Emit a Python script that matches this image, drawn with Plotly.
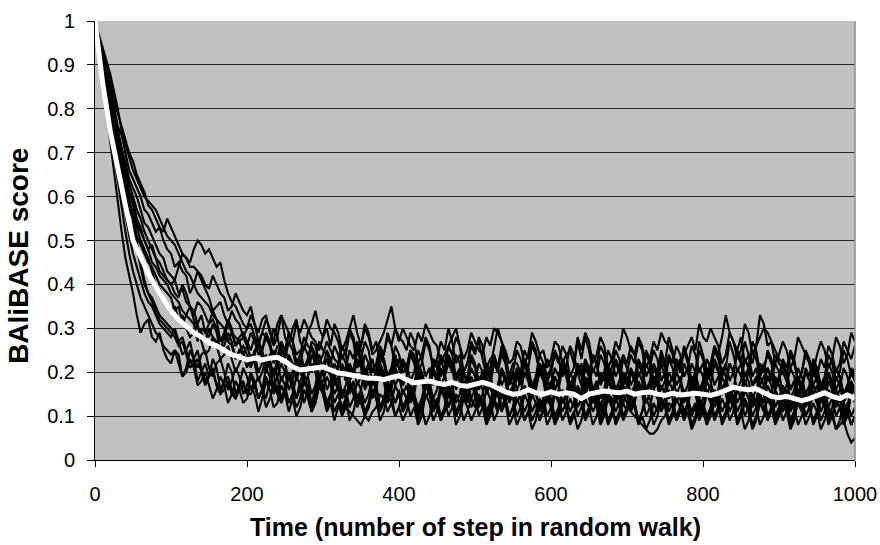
import plotly.graph_objects as go

# Random-walk step at which each individual score was recorded
steps = list(range(0, 1001, 5))
# Steps at which the average score is plotted
mean_steps = list(range(0, 1001, 10))

# BAliBASE score of each individual random walk (in hundredths)
run_a = [100,
         95, 92, 87, 85, 80, 76, 74, 70, 66, 64, 62, 60, 57, 56, 54, 52, 53, 50, 48, 47,
         44, 45, 43, 42, 38, 40, 43, 41, 39, 37, 34, 35, 36, 33, 31, 34, 32, 31, 28, 30,
         33, 31, 27, 29, 32, 30, 26, 28, 33, 31, 29, 27, 31, 29, 32, 30, 28, 27, 25, 28,
         30, 26, 31, 29, 25, 27, 30, 33, 29, 26, 30, 28, 24, 25, 27, 29, 32, 35, 30, 27,
         30, 28, 26, 25, 29, 27, 31, 29, 27, 26, 22, 24, 26, 28, 30, 26, 23, 25, 29, 27,
         25, 24, 28, 26, 30, 29, 27, 25, 22, 23, 27, 26, 22, 24, 29, 27, 24, 25, 21, 23,
         27, 26, 22, 24, 25, 22, 28, 25, 29, 27, 22, 24, 28, 26, 21, 23, 27, 25, 30, 28,
         25, 24, 28, 26, 21, 23, 27, 25, 29, 27, 26, 24, 20, 22, 24, 26, 28, 25, 31, 28,
         27, 30, 28, 26, 22, 24, 29, 27, 23, 25, 31, 29, 24, 26, 33, 31, 26, 27, 22, 24,
         27, 25, 21, 23, 28, 26, 24, 22, 20, 24, 27, 25, 21, 23, 28, 26, 22, 24, 29, 27]
run_b = [100,
         94, 90, 84, 80, 75, 72, 67, 63, 61, 58, 54, 52, 50, 48, 49, 46, 43, 42, 41, 40,
         38, 37, 40, 38, 35, 34, 31, 33, 29, 31, 34, 32, 27, 29, 32, 30, 26, 28, 29, 27,
         25, 28, 27, 25, 29, 27, 23, 26, 25, 24, 29, 27, 24, 25, 21, 23, 27, 26, 22, 24,
         27, 25, 23, 22, 26, 24, 29, 27, 21, 23, 27, 25, 20, 22, 26, 24, 28, 26, 21, 23,
         20, 21, 25, 24, 20, 22, 27, 25, 21, 23, 19, 21, 26, 24, 28, 26, 20, 22, 26, 24,
         28, 26, 21, 23, 24, 21, 26, 24, 19, 22, 22, 20, 25, 23, 27, 25, 20, 22, 19, 21,
         25, 23, 19, 21, 26, 24, 20, 22, 17, 19, 24, 22, 26, 24, 19, 21, 25, 23, 18, 20,
         24, 22, 27, 25, 19, 21, 25, 23, 18, 20, 24, 22, 26, 24, 19, 21, 17, 19, 25, 23,
         19, 21, 26, 24, 20, 22, 18, 20, 25, 23, 19, 21, 27, 25, 20, 22, 18, 20, 24, 22,
         21, 19, 24, 22, 18, 20, 25, 23, 19, 21, 17, 19, 24, 22, 18, 20, 25, 23, 19, 21]
run_c = [100,
         96, 91, 86, 83, 78, 75, 71, 68, 64, 62, 60, 57, 54, 53, 51, 49, 47, 46, 43, 42,
         41, 44, 47, 46, 45, 48, 50, 49, 47, 48, 46, 44, 45, 41, 38, 36, 35, 33, 31, 30,
         31, 28, 26, 29, 28, 26, 30, 28, 24, 25, 29, 27, 22, 24, 28, 26, 25, 23, 27, 25,
         24, 22, 26, 24, 19, 21, 25, 23, 27, 25, 20, 22, 18, 20, 25, 23, 19, 21, 26, 24,
         21, 22, 18, 20, 25, 23, 19, 21, 17, 19, 24, 22, 26, 24, 19, 21, 17, 19, 24, 22,
         18, 20, 21, 18, 24, 21, 25, 23, 18, 20, 16, 18, 23, 21, 17, 19, 24, 22, 18, 20,
         16, 18, 23, 21, 17, 19, 20, 17, 22, 20, 24, 22, 17, 19, 21, 18, 23, 21, 17, 19,
         15, 17, 22, 20, 24, 22, 17, 19, 16, 18, 23, 21, 17, 19, 15, 17, 22, 20, 16, 18,
         23, 21, 17, 19, 15, 17, 22, 20, 16, 18, 23, 21, 17, 19, 15, 17, 21, 19, 16, 18,
         22, 20, 16, 18, 14, 16, 21, 19, 23, 21, 16, 18, 19, 17, 21, 19, 15, 17, 20, 18]
run_d = [100,
         93, 89, 83, 79, 73, 70, 64, 61, 57, 55, 51, 49, 47, 45, 44, 42, 40, 39, 38, 37,
         34, 35, 31, 33, 32, 31, 27, 30, 29, 28, 31, 29, 25, 26, 29, 27, 23, 25, 26, 24,
         22, 25, 26, 23, 20, 24, 25, 22, 27, 25, 23, 21, 19, 23, 20, 22, 26, 24, 19, 21,
         23, 20, 18, 22, 26, 24, 19, 21, 17, 19, 24, 22, 18, 20, 25, 23, 19, 21, 17, 19,
         23, 21, 25, 23, 18, 20, 16, 18, 23, 21, 17, 19, 24, 22, 18, 20, 15, 18, 23, 21,
         17, 19, 15, 17, 22, 20, 24, 22, 17, 19, 20, 18, 22, 20, 15, 17, 21, 19, 23, 21,
         16, 18, 22, 20, 15, 17, 21, 19, 23, 21, 16, 18, 14, 16, 21, 19, 22, 20, 15, 17,
         21, 19, 23, 21, 16, 18, 22, 20, 25, 22, 17, 19, 23, 21, 26, 23, 18, 20, 27, 24,
         20, 22, 26, 24, 28, 33, 29, 27, 25, 28, 22, 24, 19, 21, 17, 19, 21, 18, 22, 20,
         15, 17, 21, 19, 15, 18, 13, 16, 21, 19, 14, 17, 22, 20, 16, 18, 13, 16, 21, 19]
run_e = [100,
         95, 90, 85, 81, 76, 73, 69, 66, 61, 59, 55, 53, 50, 48, 45, 44, 42, 41, 40, 38,
         37, 36, 34, 33, 35, 32, 30, 29, 27, 30, 28, 27, 25, 28, 27, 26, 23, 25, 24, 23,
         21, 24, 20, 22, 24, 21, 19, 23, 18, 20, 24, 22, 18, 21, 17, 19, 24, 22, 18, 20,
         23, 21, 17, 19, 21, 18, 22, 20, 25, 22, 17, 19, 15, 17, 22, 20, 16, 18, 23, 21,
         17, 19, 15, 17, 22, 20, 16, 18, 14, 16, 21, 19, 23, 21, 16, 18, 20, 17, 21, 19,
         16, 18, 22, 20, 15, 17, 21, 19, 14, 16, 20, 18, 23, 20, 15, 17, 22, 19, 16, 18,
         14, 16, 21, 19, 15, 17, 22, 20, 16, 18, 13, 16, 20, 18, 22, 19, 14, 17, 13, 15,
         20, 18, 22, 20, 15, 17, 21, 19, 14, 16, 20, 18, 23, 20, 25, 22, 17, 19, 15, 17,
         21, 19, 23, 21, 16, 18, 22, 20, 24, 22, 27, 24, 22, 26, 28, 30, 29, 27, 25, 23,
         22, 20, 16, 18, 14, 16, 20, 18, 15, 17, 13, 15, 20, 18, 14, 16, 21, 19, 15, 17]
run_f = [100,
         97, 94, 91, 88, 84, 80, 75, 72, 69, 66, 64, 62, 60, 59, 58, 57, 55, 53, 51, 50,
         49, 47, 45, 43, 42, 40, 38, 37, 36, 35, 33, 32, 31, 30, 27, 29, 28, 27, 24, 26,
         23, 24, 27, 25, 21, 23, 19, 21, 24, 22, 18, 20, 23, 21, 17, 19, 22, 20, 16, 18,
         21, 19, 15, 17, 22, 20, 15, 18, 14, 16, 21, 19, 15, 17, 20, 18, 13, 16, 21, 19,
         15, 17, 13, 15, 20, 18, 14, 16, 21, 19, 15, 17, 12, 15, 20, 18, 14, 16, 19, 17,
         13, 15, 19, 17, 13, 16, 12, 14, 19, 17, 13, 15, 20, 18, 14, 16, 11, 14, 18, 16,
         19, 17, 13, 15, 18, 16, 12, 14, 19, 17, 13, 15, 11, 13, 18, 16, 13, 15, 19, 17,
         12, 14, 18, 16, 13, 15, 19, 17, 12, 14, 18, 16, 13, 15, 11, 13, 18, 16, 12, 14,
         18, 16, 12, 14, 19, 17, 13, 15, 11, 13, 18, 16, 12, 14, 17, 15, 19, 17, 12, 14,
         17, 15, 11, 13, 18, 16, 12, 14, 17, 15, 11, 13, 18, 16, 12, 14, 10, 12, 17, 15]
run_g = [100,
         93, 86, 79, 72, 65, 58, 52, 46, 42, 38, 33, 29, 31, 32, 28, 27, 29, 25, 23, 22,
         25, 24, 19, 21, 25, 23, 18, 20, 22, 19, 23, 21, 16, 18, 22, 20, 15, 17, 21, 19,
         16, 18, 14, 16, 21, 19, 15, 17, 13, 15, 20, 18, 14, 16, 19, 17, 13, 15, 18, 16,
         19, 17, 13, 15, 12, 14, 18, 16, 13, 15, 11, 13, 18, 16, 12, 14, 17, 15, 13, 16,
         12, 14, 17, 15, 11, 13, 18, 16, 12, 14, 10, 12, 17, 15, 11, 13, 16, 14, 18, 16,
         12, 14, 10, 12, 17, 15, 11, 13, 16, 14, 10, 12, 17, 15, 11, 13, 9, 11, 16, 14,
         10, 12, 16, 14, 11, 13, 17, 15, 10, 12, 16, 14, 11, 13, 9, 11, 16, 14, 10, 12,
         15, 13, 17, 15, 10, 12, 16, 14, 11, 13, 9, 11, 16, 14, 10, 12, 17, 15, 11, 13,
         10, 12, 16, 14, 11, 13, 9, 11, 16, 14, 10, 12, 15, 13, 17, 15, 10, 12, 16, 14,
         11, 13, 9, 11, 16, 14, 10, 12, 15, 13, 17, 15, 10, 12, 16, 14, 11, 13, 10, 12]
run_h = [100,
         94, 88, 82, 76, 70, 65, 60, 56, 51, 47, 44, 41, 38, 36, 35, 33, 31, 30, 29, 28,
         30, 27, 24, 25, 27, 23, 21, 24, 25, 21, 19, 22, 23, 20, 16, 18, 21, 19, 15, 17,
         20, 18, 14, 16, 19, 17, 21, 19, 14, 16, 13, 15, 19, 17, 13, 16, 12, 14, 18, 16,
         13, 15, 11, 13, 10, 12, 11, 10, 9, 8, 10, 9, 11, 12, 15, 14, 11, 13, 17, 15,
         11, 13, 16, 14, 10, 12, 17, 15, 11, 13, 9, 11, 16, 14, 10, 12, 15, 13, 17, 15,
         10, 12, 16, 14, 9, 11, 15, 13, 10, 12, 16, 14, 9, 11, 15, 13, 9, 12, 8, 10,
         15, 13, 9, 11, 14, 12, 16, 14, 9, 11, 15, 13, 10, 12, 8, 10, 14, 12, 9, 11,
         15, 13, 9, 11, 14, 12, 8, 10, 14, 12, 16, 14, 9, 11, 15, 13, 10, 12, 9, 11,
         15, 13, 9, 11, 14, 12, 16, 14, 9, 11, 14, 12, 8, 10, 14, 12, 9, 11, 15, 13,
         9, 11, 14, 12, 8, 10, 14, 12, 9, 11, 15, 13, 8, 10, 14, 12, 9, 11, 8, 10]
run_i = [100,
         95, 91, 86, 82, 78, 74, 69, 64, 59, 54, 49, 45, 41, 38, 36, 34, 32, 31, 30, 29,
         28, 26, 27, 24, 21, 22, 23, 20, 17, 19, 20, 17, 15, 18, 19, 16, 14, 17, 18, 15,
         19, 17, 14, 16, 12, 14, 17, 15, 19, 17, 13, 15, 12, 14, 18, 16, 11, 13, 17, 15,
         12, 14, 18, 16, 11, 13, 17, 15, 12, 14, 10, 12, 16, 14, 11, 13, 17, 15, 10, 12,
         16, 14, 10, 12, 8, 10, 15, 13, 9, 11, 16, 14, 10, 12, 15, 13, 9, 11, 14, 12,
         15, 13, 9, 11, 14, 12, 16, 14, 10, 12, 8, 10, 15, 13, 9, 11, 14, 12, 15, 13,
         9, 11, 14, 12, 8, 10, 15, 13, 9, 11, 14, 12, 8, 10, 14, 12, 9, 11, 15, 13,
         11, 10, 9, 8, 7, 6, 6, 7, 9, 10, 13, 12, 9, 11, 15, 13, 8, 10, 14, 12,
         9, 11, 15, 13, 8, 10, 14, 12, 9, 11, 7, 9, 14, 12, 8, 10, 15, 13, 9, 11,
         14, 12, 8, 10, 13, 11, 15, 13, 8, 10, 14, 12, 9, 11, 7, 9, 13, 11, 8, 10]
run_j = [100,
         93, 87, 81, 75, 69, 63, 57, 52, 47, 43, 40, 37, 35, 33, 31, 29, 28, 26, 25, 24,
         25, 22, 19, 20, 23, 21, 17, 18, 20, 17, 14, 16, 19, 17, 13, 15, 18, 16, 13, 14,
         17, 15, 11, 14, 18, 16, 12, 13, 17, 15, 11, 14, 10, 12, 16, 14, 11, 13, 17, 15,
         11, 13, 9, 12, 16, 14, 9, 11, 15, 13, 10, 12, 16, 14, 9, 11, 15, 13, 10, 12,
         9, 11, 15, 13, 9, 12, 8, 10, 14, 12, 9, 11, 15, 13, 8, 10, 14, 12, 9, 11,
         14, 12, 8, 10, 13, 11, 15, 13, 8, 10, 14, 12, 9, 11, 7, 9, 13, 11, 14, 12,
         8, 10, 14, 12, 9, 11, 7, 9, 14, 12, 8, 10, 13, 11, 15, 13, 8, 10, 13, 11,
         14, 12, 8, 10, 7, 9, 13, 11, 14, 12, 8, 10, 14, 12, 9, 11, 7, 9, 13, 11,
         8, 10, 14, 12, 9, 11, 15, 13, 8, 10, 13, 11, 7, 9, 13, 11, 14, 12, 8, 10,
         13, 11, 7, 9, 14, 12, 8, 10, 13, 11, 7, 9, 12, 10, 7, 8, 9, 6, 4, 5]
run_k = [100,
         96, 93, 90, 86, 82, 79, 76, 73, 70, 68, 65, 63, 61, 58, 57, 55, 53, 52, 55, 53,
         51, 49, 47, 46, 44, 44, 43, 42, 40, 39, 42, 40, 38, 37, 34, 35, 38, 36, 34, 33,
         35, 31, 29, 32, 33, 29, 27, 31, 33, 28, 26, 30, 32, 27, 25, 29, 31, 34, 30, 28,
         32, 30, 29, 27, 23, 25, 30, 28, 24, 26, 31, 29, 25, 27, 22, 24, 29, 26, 30, 28,
         27, 25, 29, 27, 22, 24, 28, 26, 21, 23, 27, 25, 30, 27, 22, 24, 20, 22, 27, 25,
         27, 23, 19, 21, 26, 30, 27, 22, 18, 20, 25, 23, 19, 21, 26, 24, 20, 22, 18, 20,
         24, 22, 26, 24, 19, 21, 27, 23, 28, 25, 20, 22, 18, 20, 25, 23, 19, 21, 24, 22,
         26, 24, 19, 21, 25, 23, 18, 20, 24, 22, 28, 25, 21, 23, 19, 21, 26, 24, 20, 22,
         18, 20, 25, 23, 19, 21, 27, 24, 20, 22, 17, 20, 25, 23, 19, 21, 24, 22, 17, 19,
         23, 21, 25, 23, 18, 20, 24, 22, 17, 19, 23, 21, 26, 24, 20, 22, 27, 25, 23, 26]
run_l = [100,
         94, 89, 84, 80, 75, 70, 66, 62, 59, 56, 53, 50, 48, 46, 43, 40, 39, 37, 36, 34,
         35, 32, 33, 30, 28, 29, 31, 27, 24, 25, 28, 26, 23, 24, 26, 23, 20, 22, 24, 21,
         24, 22, 18, 20, 23, 21, 17, 19, 22, 20, 16, 18, 23, 21, 17, 19, 15, 17, 22, 20,
         16, 18, 22, 20, 15, 17, 21, 19, 23, 21, 16, 18, 14, 16, 21, 19, 15, 17, 20, 18,
         22, 20, 15, 17, 21, 19, 14, 16, 20, 18, 23, 20, 15, 17, 13, 15, 20, 18, 14, 16,
         19, 17, 21, 19, 14, 16, 20, 18, 13, 15, 19, 17, 22, 19, 14, 16, 20, 18, 13, 15,
         19, 17, 13, 15, 20, 18, 14, 16, 21, 19, 15, 17, 12, 15, 19, 17, 13, 16, 20, 18,
         14, 16, 20, 18, 13, 15, 19, 17, 22, 19, 14, 16, 20, 18, 13, 15, 19, 17, 14, 16,
         20, 18, 14, 16, 21, 19, 15, 17, 13, 15, 20, 18, 14, 16, 19, 17, 13, 15, 19, 17,
         14, 16, 12, 14, 19, 17, 13, 15, 20, 18, 14, 16, 12, 14, 19, 17, 13, 15, 18, 16]
run_m = [100,
         94, 88, 82, 77, 72, 68, 64, 60, 55, 52, 48, 44, 40, 38, 37, 35, 33, 32, 31, 30,
         29, 27, 28, 25, 22, 23, 25, 21, 18, 19, 21, 17, 15, 16, 18, 15, 14, 16, 17, 15,
         15, 17, 19, 16, 14, 18, 20, 15, 13, 17, 19, 16, 14, 18, 20, 15, 13, 16, 19, 17,
         13, 15, 19, 17, 14, 16, 12, 14, 18, 16, 13, 15, 19, 17, 12, 14, 18, 16, 13, 15,
         11, 13, 17, 15, 12, 14, 18, 16, 11, 13, 17, 15, 12, 14, 10, 12, 16, 15, 12, 14,
         18, 16, 11, 13, 17, 15, 12, 14, 10, 12, 16, 14, 11, 13, 17, 15, 12, 14, 10, 12,
         16, 14, 11, 13, 17, 15, 10, 12, 16, 14, 11, 13, 9, 11, 15, 14, 11, 13, 17, 15,
         11, 13, 9, 11, 16, 14, 10, 12, 17, 15, 11, 13, 10, 12, 16, 14, 11, 13, 10, 12,
         16, 14, 10, 12, 17, 15, 11, 13, 9, 11, 16, 14, 10, 12, 15, 13, 17, 15, 10, 12,
         15, 13, 9, 11, 16, 14, 10, 12, 15, 13, 9, 11, 16, 14, 10, 12, 8, 10, 15, 13]
run_n = [100,
         96, 92, 88, 84, 80, 75, 71, 67, 63, 60, 57, 55, 52, 50, 48, 46, 45, 43, 41, 40,
         41, 38, 39, 36, 35, 33, 36, 35, 33, 31, 32, 30, 27, 28, 31, 29, 26, 27, 28, 26,
         29, 27, 24, 25, 28, 26, 22, 24, 26, 23, 27, 25, 21, 22, 26, 24, 20, 23, 24, 21,
         25, 23, 19, 21, 24, 22, 18, 20, 26, 23, 19, 21, 23, 19, 24, 22, 18, 20, 24, 21,
         17, 19, 24, 22, 18, 20, 16, 18, 23, 21, 17, 19, 22, 20, 24, 22, 17, 19, 16, 18,
         22, 20, 16, 18, 23, 21, 17, 19, 15, 17, 21, 19, 23, 21, 16, 18, 22, 20, 15, 17,
         21, 19, 23, 21, 16, 18, 22, 20, 15, 17, 21, 19, 24, 22, 18, 20, 16, 18, 23, 21,
         17, 19, 15, 17, 22, 20, 16, 18, 23, 21, 17, 19, 15, 17, 22, 20, 16, 18, 21, 19,
         15, 17, 22, 20, 16, 18, 14, 16, 21, 19, 23, 21, 17, 18, 22, 20, 25, 23, 17, 19,
         20, 18, 14, 16, 21, 19, 15, 17, 22, 20, 16, 18, 14, 16, 21, 19, 15, 17, 20, 18]

runs = [run_a, run_b, run_c, run_d, run_e, run_f, run_g,
        run_h, run_i, run_j, run_k, run_l, run_m, run_n]

# Average score over all walks
mean_score = [1.00, 0.86, 0.75, 0.66, 0.58, 0.50, 0.46, 0.425, 0.395, 0.365, 0.34,
              0.32, 0.305, 0.29, 0.28, 0.267, 0.26, 0.25, 0.24, 0.235, 0.228,
              0.232, 0.228, 0.232, 0.234, 0.225, 0.212, 0.205, 0.207, 0.210, 0.212,
              0.205, 0.198, 0.196, 0.192, 0.190, 0.186, 0.186, 0.183, 0.188, 0.192,
              0.183, 0.176, 0.178, 0.180, 0.175, 0.172, 0.177, 0.170, 0.168, 0.172,
              0.177, 0.172, 0.163, 0.155, 0.150, 0.152, 0.160, 0.153, 0.150, 0.155,
              0.150, 0.153, 0.150, 0.140, 0.150, 0.153, 0.157, 0.155, 0.153, 0.157,
              0.150, 0.153, 0.155, 0.150, 0.147, 0.152, 0.148, 0.150, 0.152, 0.150,
              0.147, 0.152, 0.158, 0.166, 0.162, 0.160, 0.162, 0.155, 0.145, 0.142,
              0.145, 0.140, 0.135, 0.140, 0.148, 0.153, 0.145, 0.140, 0.148, 0.140]

y_ticks = [i / 10 for i in range(11)]
y_tick_text = ["0", "0.1", "0.2", "0.3", "0.4", "0.5", "0.6", "0.7", "0.8", "0.9", "1"]
x_ticks = [0, 200, 400, 600, 800, 1000]

FONT = "Liberation Sans, Arial, sans-serif"

fig = go.Figure()
for run in runs:
    fig.add_trace(go.Scatter(
        x=steps, y=[v / 100 for v in run], mode="lines",
        line=dict(color="#000000", width=2.1), hoverinfo="skip",
    ))
fig.add_trace(go.Scatter(
    x=mean_steps, y=mean_score, mode="lines",
    line=dict(color="#ffffff", width=5), hoverinfo="skip",
))

fig.update_layout(
    width=880, height=545,
    margin=dict(l=95, r=25, t=21, b=85),
    paper_bgcolor="#ffffff",
    plot_bgcolor="#c0c0c0",
    showlegend=False,
    font=dict(family=FONT, size=20, color="#000000"),
    xaxis=dict(
        range=[0, 1000], tickvals=x_ticks, ticks="outside", ticklen=6,
        tickcolor="#000000", showline=True, linecolor="#000000", linewidth=1,
        showgrid=False, zeroline=False, ticklabelstandoff=10, automargin=False,
    ),
    yaxis=dict(
        range=[0, 1], tickvals=y_ticks, ticktext=y_tick_text, ticks="outside",
        ticklen=7, tickcolor="#000000", showline=True, linecolor="#000000",
        linewidth=1, showgrid=True, gridcolor="#222222", gridwidth=1,
        zeroline=False, ticklabelstandoff=8, automargin=False,
    ),
    shapes=[dict(type="line", xref="paper", yref="paper", x0=1, x1=1, y0=0, y1=1,
                 line=dict(color="#8c8c8c", width=1.5))],
    annotations=[
        dict(text="Time (number of step in random walk)", xref="paper", yref="paper",
             x=0.5, y=-0.153, xanchor="center", yanchor="middle", showarrow=False,
             font=dict(family=FONT, size=25, weight="bold")),
        dict(text="BAliBASE score", xref="paper", yref="paper",
             x=-0.1, y=0.465, xanchor="center", yanchor="middle", textangle=-90,
             showarrow=False, font=dict(family=FONT, size=28, weight="bold")),
    ],
)

fig.write_html("out.html")
